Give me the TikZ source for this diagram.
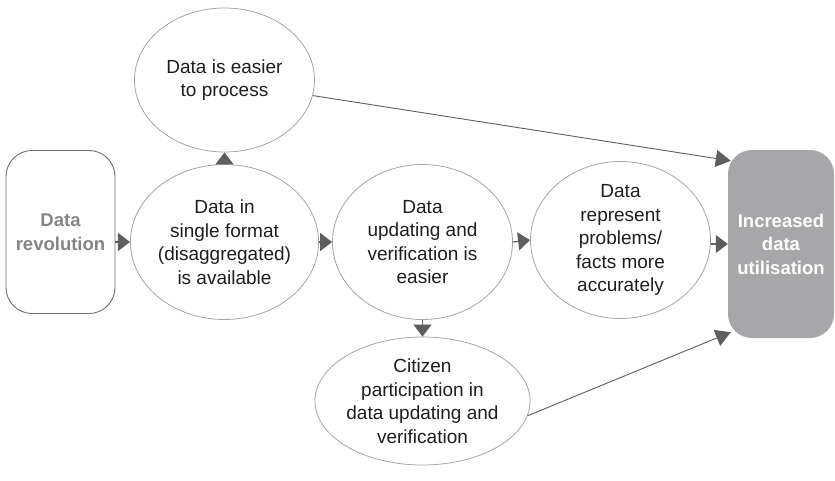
\documentclass[tikz,border=0pt]{standalone}
\usepackage{fontspec}
\setmainfont{Liberation Sans}
\usetikzlibrary{shapes.geometric,arrows.meta,calc}
\definecolor{elline}{HTML}{A5A5A5}
\definecolor{arr}{HTML}{5E5E60}
\definecolor{incfill}{HTML}{A7A7A9}
\definecolor{drtext}{HTML}{858585}
\definecolor{txt}{HTML}{1E1E1E}
\tikzset{
  ell/.style={ellipse,draw=elline,line width=0.8pt,minimum width=180pt,minimum height=155pt,inner sep=0pt,align=center,font=\fontsize{19}{23.5}\selectfont,text=txt},
  con/.style={draw=arr,line width=1.2pt,-{Triangle[length=12pt,width=18pt]}},
  lcon/.style={draw=arr,line width=0.9pt,-{Triangle[length=15pt,width=17pt]}},
}
\begin{document}
\begin{tikzpicture}[x=1pt,y=-1pt]
\useasboundingbox (0,0) rectangle (835,480);
\node[draw=arr!90,line width=0.9pt,rounded corners=26pt,minimum width=109pt,minimum height=163pt,inner sep=0pt,align=center,font=\fontsize{18.5}{23.5}\selectfont\bfseries,text=drtext] (dr) at (60.5,232) {Data\\revolution};
\node[fill=incfill,rounded corners=24pt,minimum width=106pt,minimum height=188pt,inner sep=0pt,align=center,font=\fontsize{18.5}{23.5}\selectfont\bfseries,text=white] (inc) at (781,244) {Increased\\data\\utilisation};
\node[ell,minimum height=144pt] (e1) at (224.5,80) {Data is easier\\to process};
\node[ell] (e2) at (224.5,242) {Data in\\single format\\(disaggregated)\\is available};
\node[ell] (e3) at (422.5,242) {Data\\updating and\\verification is\\easier};
\node[ell,minimum height=152pt] (e4) at (620.5,240) {Data\\represent\\problems/\\facts more\\accurately};
\node[ell,minimum height=128pt] (e5) at (422.5,401) {Citizen\\participation in\\data updating and\\verification};
\draw[con] (dr.east |- e2) -- (e2.west);
\draw[con] (e2.north) -- (e1.south);
\draw[con] (e2.east) -- (e3.west);
\draw[con] (e3.east) -- (e4.west);
\draw[con] (e4.east |- inc) -- (inc.west);
\draw[con] (e3.south) -- (e5.north);
\draw[lcon] (e1.-10) -- ($(inc.north west)+(3,11)$);
\draw[lcon] (e5.-8) -- ($(inc.south west)+(3,-6)$);
\end{tikzpicture}
\end{document}
